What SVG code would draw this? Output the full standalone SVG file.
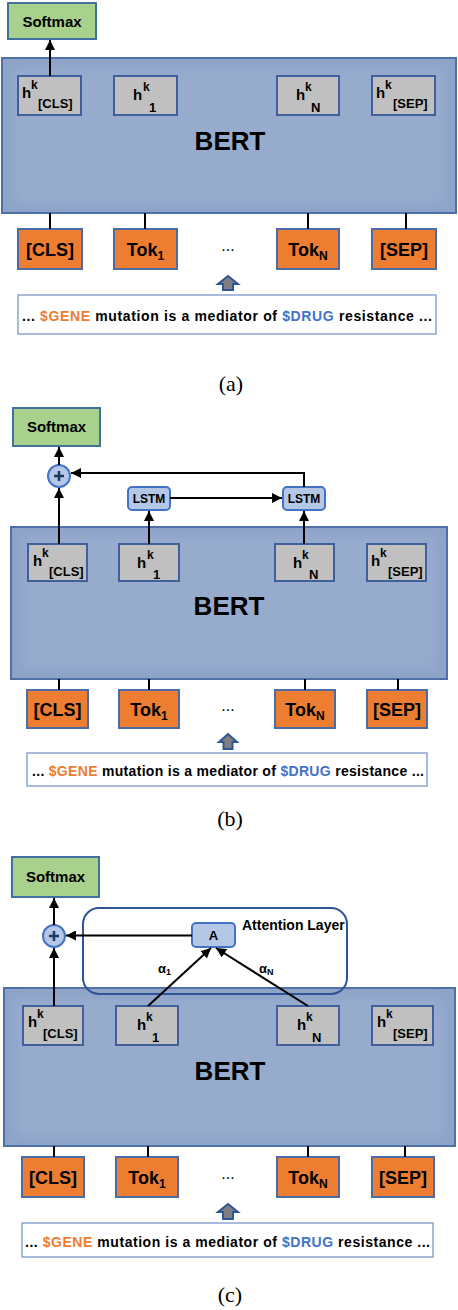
<svg xmlns="http://www.w3.org/2000/svg" width="458" height="1310" viewBox="0 0 458 1310">
<style>
.bert{fill:#8DA3C8;stroke:#4F6FA8;stroke-width:2}
.bertin{fill:#97ACCD;filter:url(#blur)}
.hb{fill:#C0C0C0;stroke:#3F5F9F;stroke-width:2}
.tk{fill:#ED7D31;stroke:#4A6BA5;stroke-width:2}
.sm{fill:#A9D18E;stroke:#41719C;stroke-width:2}
.ls{fill:#B4C7E7;stroke:#4472C4;stroke-width:2}
.att{fill:none;stroke:#2F5597;stroke-width:2}
.sent{fill:#fff;stroke:#8EA4CF;stroke-width:1.5}
.t{font-family:"Liberation Sans",Arial,sans-serif;font-weight:bold;fill:#000}
.bt{font-size:26px;text-anchor:middle}
.hh{font-size:15px}
.hk{font-size:12px}
.hs{font-size:13px}
.tt{font-size:18px;text-anchor:middle}
.st{font-size:14px}
.cap{font-family:"Liberation Serif","Times New Roman",serif;font-size:22px;text-anchor:middle;fill:#000}
.ln{stroke:#000;stroke-width:2;fill:none}
.ar{stroke:#000;stroke-width:2;fill:none;marker-end:url(#ah)}
.or{fill:#ED7D31}
.bl{fill:#4472C4}
.up{fill:#7F7F7F;stroke:#2F5597;stroke-width:2}
.dots{font-family:"Liberation Sans",Arial,sans-serif;font-size:16px;text-anchor:middle}
</style>
<defs>
<marker id="ah" viewBox="0 0 10 10" refX="10" refY="5" markerWidth="10" markerHeight="10" markerUnits="userSpaceOnUse" orient="auto"><path d="M0,0 L10,5 L0,10 z" fill="#000"/></marker>
<filter id="blur" x="-10%" y="-10%" width="120%" height="120%"><feGaussianBlur stdDeviation="6"/></filter>
</defs>

<!-- ========== Panel (a) ========== -->
<g id="a-softmax"><rect class="sm" x="8" y="3" width="88" height="36"/><text class="t" x="52" y="26.5" font-size="15" text-anchor="middle">Softmax</text></g>
<g id="a-bert"><rect class="bert" x="2" y="58" width="454" height="155"/><rect class="bertin" x="14" y="68" width="430" height="135"/><text class="t bt" x="230" y="150">BERT</text></g>
<g id="a-hcls"><rect class="hb" x="18" y="76" width="63" height="39"/><text class="t"><tspan class="hh" x="22" y="98">h</tspan><tspan class="hk" x="31" y="89">k</tspan><tspan class="hs" x="38" y="108">[CLS]</tspan></text></g>
<g id="a-h1"><rect class="hb" x="114" y="76" width="63" height="39"/><text class="t"><tspan class="hh" x="133" y="100">h</tspan><tspan class="hk" x="143" y="91">k</tspan><tspan class="hs" x="149" y="112">1</tspan></text></g>
<g id="a-hn"><rect class="hb" x="277" y="76" width="62" height="39"/><text class="t"><tspan class="hh" x="296" y="100">h</tspan><tspan class="hk" x="305" y="91">k</tspan><tspan class="hs" x="311" y="112">N</tspan></text></g>
<g id="a-hsep"><rect class="hb" x="372" y="76" width="63" height="39"/><text class="t"><tspan class="hh" x="376" y="98">h</tspan><tspan class="hk" x="385" y="89">k</tspan><tspan class="hs" x="393" y="108">[SEP]</tspan></text></g>
<g id="a-tcls"><rect class="tk" x="18" y="229" width="64" height="40"/><text class="t tt" x="50" y="256">[CLS]</text></g>
<g id="a-tok1"><rect class="tk" x="114" y="229" width="63" height="40"/><text class="t tt" x="145.5" y="256">Tok<tspan font-size="12" dy="4">1</tspan></text></g>
<g id="a-tokn"><rect class="tk" x="277" y="229" width="62" height="40"/><text class="t tt" x="308" y="256">Tok<tspan font-size="12" dy="4">N</tspan></text></g>
<g id="a-tsep"><rect class="tk" x="372" y="229" width="64" height="40"/><text class="t tt" x="404" y="256">[SEP]</text></g>
<text class="dots" x="228" y="251">...</text>
<g id="a-input"><polygon class="up" points="228,276 238,284 233,284 233,290 223,290 223,284 218,284"/><rect class="sent" x="18" y="295" width="418" height="39"/><text class="t st" x="22" y="321" textLength="410" lengthAdjust="spacing">... <tspan class="or">$GENE</tspan> mutation is a mediator of <tspan class="bl">$DRUG</tspan> resistance ...</text></g>
<text class="cap" x="231" y="391">(a)</text>
<g id="a-connectors">
<line class="ar" x1="50" y1="76" x2="50" y2="40"/>
<line class="ln" x1="50" y1="213" x2="50" y2="229"/>
<line class="ln" x1="145" y1="213" x2="145" y2="229"/>
<line class="ln" x1="308" y1="213" x2="308" y2="229"/>
<line class="ln" x1="406" y1="213" x2="406" y2="229"/>
</g>

<!-- ========== Panel (b) ========== -->
<g id="b-softmax"><rect class="sm" x="13" y="408" width="87" height="38"/><text class="t" x="56.5" y="432" font-size="15" text-anchor="middle">Softmax</text></g>
<g id="b-plus"><circle class="ls" cx="59" cy="476" r="11" stroke="#2F5597"/><path d="M59,471 V481 M54,476 H64" stroke="#1F3864" stroke-width="2.5"/></g>
<g id="b-lstm1"><rect class="ls" x="128" y="487" width="42" height="23" rx="4"/><text class="t" x="149" y="503" font-size="12" text-anchor="middle">LSTM</text></g>
<g id="b-lstmn"><rect class="ls" x="283" y="487" width="42" height="23" rx="4"/><text class="t" x="304" y="503" font-size="12" text-anchor="middle">LSTM</text></g>
<g id="b-bert"><rect class="bert" x="11" y="527" width="436" height="152"/><rect class="bertin" x="23" y="537" width="412" height="132"/><text class="t bt" x="229" y="615">BERT</text></g>
<g id="b-hcls"><rect class="hb" x="28" y="544" width="59" height="37"/><text class="t"><tspan class="hh" x="33" y="566">h</tspan><tspan class="hk" x="42" y="557">k</tspan><tspan class="hs" x="49" y="576">[CLS]</tspan></text></g>
<g id="b-h1"><rect class="hb" x="119" y="544" width="60" height="37"/><text class="t"><tspan class="hh" x="137" y="568">h</tspan><tspan class="hk" x="147" y="559">k</tspan><tspan class="hs" x="153" y="579">1</tspan></text></g>
<g id="b-hn"><rect class="hb" x="275" y="544" width="59" height="37"/><text class="t"><tspan class="hh" x="293" y="568">h</tspan><tspan class="hk" x="302" y="559">k</tspan><tspan class="hs" x="309" y="579">N</tspan></text></g>
<g id="b-hsep"><rect class="hb" x="367" y="544" width="59" height="37"/><text class="t"><tspan class="hh" x="371" y="566">h</tspan><tspan class="hk" x="380" y="557">k</tspan><tspan class="hs" x="388" y="576">[SEP]</tspan></text></g>
<g id="b-tcls"><rect class="tk" x="27" y="690" width="61" height="38"/><text class="t tt" x="57.5" y="716">[CLS]</text></g>
<g id="b-tok1"><rect class="tk" x="119" y="690" width="60" height="38"/><text class="t tt" x="149" y="716">Tok<tspan font-size="12" dy="4">1</tspan></text></g>
<g id="b-tokn"><rect class="tk" x="275" y="690" width="60" height="38"/><text class="t tt" x="305" y="716">Tok<tspan font-size="12" dy="4">N</tspan></text></g>
<g id="b-tsep"><rect class="tk" x="367" y="690" width="60" height="38"/><text class="t tt" x="397" y="716">[SEP]</text></g>
<text class="dots" x="228" y="711">...</text>
<g id="b-input"><polygon class="up" points="228,734 237,742 232.5,742 232.5,749 223.5,749 223.5,742 219,742"/><rect class="sent" x="27" y="753" width="400" height="33"/><text class="t st" x="32" y="776" textLength="392" lengthAdjust="spacing" font-size="13.5">... <tspan class="or">$GENE</tspan> mutation is a mediator of <tspan class="bl">$DRUG</tspan> resistance ...</text></g>
<text class="cap" x="230" y="826">(b)</text>
<g id="b-connectors">
<line class="ar" x1="59" y1="465" x2="59" y2="447"/>
<line class="ar" x1="59" y1="544" x2="59" y2="488"/>
<polyline class="ar" points="304,487 304,473 71,473"/>
<line class="ar" x1="149" y1="544" x2="149" y2="511"/>
<line class="ar" x1="304" y1="544" x2="304" y2="511"/>
<line class="ar" x1="170" y1="498" x2="282" y2="498"/>
<line class="ln" x1="59" y1="679" x2="59" y2="690"/>
<line class="ln" x1="149" y1="679" x2="149" y2="690"/>
<line class="ln" x1="305" y1="679" x2="305" y2="690"/>
<line class="ln" x1="398" y1="679" x2="398" y2="690"/>
</g>

<!-- ========== Panel (c) ========== -->
<g id="c-softmax"><rect class="sm" x="12" y="857" width="87" height="40"/><text class="t" x="55.5" y="882" font-size="15" text-anchor="middle">Softmax</text></g>
<g id="c-plus"><circle class="ls" cx="54" cy="936" r="11" stroke="#2F5597"/><path d="M54,931 V941 M49,936 H59" stroke="#1F3864" stroke-width="2.5"/></g>
<g id="c-bert"><rect class="bert" x="4" y="988" width="451" height="158"/><rect class="bertin" x="16" y="998" width="427" height="138"/><text class="t bt" x="230" y="1080">BERT</text></g>
<g id="c-attention"><rect class="att" x="83" y="908" width="264" height="86" rx="16"/><text class="t" x="242" y="930" font-size="14">Attention Layer</text></g>
<g id="c-a"><rect class="ls" x="192" y="923" width="43" height="24" rx="4"/><text class="t" x="213.5" y="940" font-size="13" text-anchor="middle">A</text></g>
<g id="c-hcls"><rect class="hb" x="23" y="1006" width="60" height="39"/><text class="t"><tspan class="hh" x="28" y="1027">h</tspan><tspan class="hk" x="37" y="1018">k</tspan><tspan class="hs" x="43" y="1038">[CLS]</tspan></text></g>
<g id="c-h1"><rect class="hb" x="116" y="1006" width="62" height="39"/><text class="t"><tspan class="hh" x="137" y="1030">h</tspan><tspan class="hk" x="146" y="1021">k</tspan><tspan class="hs" x="152" y="1042">1</tspan></text></g>
<g id="c-hn"><rect class="hb" x="277" y="1006" width="62" height="39"/><text class="t"><tspan class="hh" x="297" y="1030">h</tspan><tspan class="hk" x="306" y="1021">k</tspan><tspan class="hs" x="312" y="1042">N</tspan></text></g>
<g id="c-hsep"><rect class="hb" x="372" y="1006" width="61" height="39"/><text class="t"><tspan class="hh" x="377" y="1027">h</tspan><tspan class="hk" x="386" y="1018">k</tspan><tspan class="hs" x="393" y="1038">[SEP]</tspan></text></g>
<g id="c-tcls"><rect class="tk" x="22" y="1157" width="62" height="40"/><text class="t tt" x="53" y="1184">[CLS]</text></g>
<g id="c-tok1"><rect class="tk" x="116" y="1157" width="62" height="40"/><text class="t tt" x="147" y="1184">Tok<tspan font-size="12" dy="4">1</tspan></text></g>
<g id="c-tokn"><rect class="tk" x="277" y="1157" width="62" height="40"/><text class="t tt" x="308" y="1184">Tok<tspan font-size="12" dy="4">N</tspan></text></g>
<g id="c-tsep"><rect class="tk" x="372" y="1157" width="62" height="40"/><text class="t tt" x="403" y="1184">[SEP]</text></g>
<text class="dots" x="228" y="1179">...</text>
<g id="c-input"><polygon class="up" points="228,1204 238,1212 233,1212 233,1219 223,1219 223,1212 218,1212"/><rect class="sent" x="22" y="1223" width="411" height="34"/><text class="t st" x="25" y="1247" textLength="405" lengthAdjust="spacing">... <tspan class="or">$GENE</tspan> mutation is a mediator of <tspan class="bl">$DRUG</tspan> resistance ...</text></g>
<text class="cap" x="230" y="1302">(c)</text>
<g id="c-connectors">
<line class="ar" x1="54" y1="925" x2="54" y2="898"/>
<line class="ar" x1="54" y1="1006" x2="54" y2="948"/>
<line class="ar" x1="192" y1="935.5" x2="66" y2="935.5"/>
<line class="ar" x1="148" y1="1006" x2="211" y2="948"/>
<line class="ar" x1="308" y1="1006" x2="216" y2="948"/>
<text class="t" x="158" y="973" font-size="13">α<tspan font-size="9" dy="2">1</tspan></text>
<text class="t" x="259" y="973" font-size="13">α<tspan font-size="9" dy="2">N</tspan></text>
<line class="ln" x1="54" y1="1146" x2="54" y2="1157"/>
<line class="ln" x1="148" y1="1146" x2="148" y2="1157"/>
<line class="ln" x1="308" y1="1146" x2="308" y2="1157"/>
<line class="ln" x1="405" y1="1146" x2="405" y2="1157"/>
</g>
</svg>
